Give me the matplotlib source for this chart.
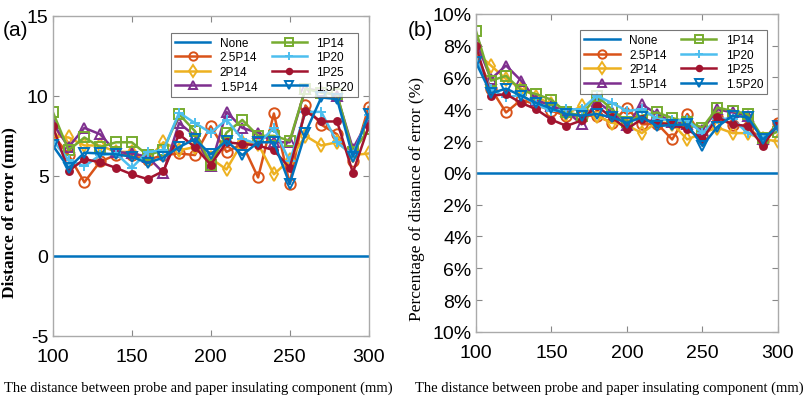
import matplotlib
matplotlib.use("Agg")
import matplotlib.pyplot as plt
import numpy as np

plt.rcParams["axes.unicode_minus"] = False

# distance between probe and component (mm)
distance = list(range(100, 301, 10))

names = ["None", "2.5P14", "2P14", "1.5P14", "1P14", "1P20", "1P25", "1.5P20"]
colors = ["#0072BD", "#D95319", "#EDB120", "#7E2F8E", "#77AC30", "#4DBEEE", "#A2142F", "#0072BD"]
markers = [None, "o", "d", "^", "s", "+", "o", "v"]

# (a) distance of error in mm
err_none = [0.0] * 21
err_25p14 = [7.6, 6.3, 4.6, 5.9, 6.3, 6.3, 6.0, 6.3, 6.4, 6.3, 8.1, 6.5, 7.0, 4.9, 8.9, 4.5, 9.4, 8.2, 7.6, 5.9, 9.3]
err_2p14 = [7.5, 7.4, 6.9, 6.9, 6.5, 6.5, 6.0, 7.1, 6.6, 6.8, 6.1, 5.4, 7.1, 7.0, 5.1, 6.0, 7.5, 6.9, 7.1, 6.3, 6.4]
err_15p14 = [8.3, 6.8, 8.0, 7.6, 6.5, 6.4, 6.2, 5.2, 8.3, 7.5, 5.6, 9.0, 8.0, 7.7, 7.1, 7.1, 10.45, 10.3, 10.0, 6.7, 8.5]
err_1p14 = [9.0, 6.6, 7.4, 6.8, 7.1, 7.1, 6.3, 6.6, 8.85, 7.8, 5.7, 7.7, 8.5, 7.5, 7.5, 7.2, 10.45, 10.2, 10.1, 6.5, 7.9]
err_1p20 = [7.2, 6.0, 5.6, 6.3, 6.4, 5.5, 6.5, 6.6, 8.95, 8.3, 7.7, 8.5, 7.3, 7.0, 8.0, 5.9, 9.0, 9.0, 7.1, 6.3, 8.8]
err_1p25 = [8.1, 5.3, 6.05, 5.85, 5.5, 5.1, 4.8, 5.3, 7.6, 6.8, 5.7, 7.1, 7.0, 6.9, 6.6, 5.5, 9.05, 8.4, 8.4, 5.2, 8.1]
err_15p20 = [6.9, 5.5, 6.45, 6.4, 6.35, 6.2, 5.8, 6.15, 6.8, 7.3, 6.35, 7.2, 6.3, 7.1, 7.1, 4.5, 7.7, 9.9, 9.8, 6.2, 8.85]

# (b) percentage of distance of error (%)
pct_none = [0.0] * 21
pct_25p14 = [7.6, 5.3, 3.8, 4.6, 4.3, 3.9, 3.6, 3.6, 3.6, 3.15, 4.1, 3.05, 3.1, 2.1, 3.7, 2.3, 3.5, 3.0, 2.9, 2.0, 3.15]
pct_2p14 = [7.6, 6.75, 5.9, 5.3, 4.8, 4.3, 3.7, 4.2, 3.6, 3.15, 3.0, 2.5, 3.2, 3.1, 2.1, 2.5, 2.85, 2.5, 2.5, 2.1, 2.0]
pct_15p14 = [8.3, 5.9, 6.75, 5.8, 4.6, 4.2, 3.9, 3.05, 4.5, 3.8, 3.0, 4.3, 3.7, 3.2, 3.1, 2.7, 4.0, 3.8, 3.6, 2.1, 2.9]
pct_1p14 = [8.95, 5.8, 6.1, 5.2, 4.95, 4.6, 3.8, 3.6, 4.85, 4.0, 3.2, 3.6, 3.8, 3.45, 3.2, 2.85, 4.1, 3.9, 3.7, 2.2, 2.6]
pct_1p20 = [7.2, 5.25, 4.75, 4.9, 4.3, 3.9, 4.0, 4.0, 4.85, 4.4, 3.9, 4.0, 3.4, 3.3, 3.3, 2.5, 3.4, 3.4, 2.5, 2.2, 2.8]
pct_1p25 = [8.0, 4.85, 4.95, 4.4, 4.0, 3.35, 2.95, 3.3, 4.2, 3.5, 2.75, 3.4, 3.15, 3.05, 2.75, 2.1, 3.5, 3.05, 2.95, 1.7, 3.05]
pct_15p20 = [6.95, 5.0, 5.3, 4.85, 4.4, 4.05, 3.7, 3.6, 3.7, 3.5, 3.15, 3.5, 2.95, 3.0, 3.05, 1.7, 2.9, 3.6, 3.5, 2.1, 2.95]

err_series = [err_none, err_25p14, err_2p14, err_15p14, err_1p14, err_1p20, err_1p25, err_15p20]
pct_series = [pct_none, pct_25p14, pct_2p14, pct_15p14, pct_1p14, pct_1p20, pct_1p25, pct_15p20]

tick_font = ["Liberation Sans", "DejaVu Sans"]
serif_font = ["Liberation Serif", "DejaVu Serif"]
xlabel_text = "The distance between probe and paper insulating component (mm)"


def draw_panel(ax, series, leg_anchor):
    for i in range(len(series)):
        face = "none"
        size = 7.5
        if names[i] == "1P25":
            face = colors[i]
            size = 5
        ax.plot(distance, series[i], color=colors[i], marker=markers[i], markersize=size,
                markerfacecolor=face, markeredgewidth=1.4, linewidth=1.8, label=names[i])
    ax.set_xlim(100, 300)
    ax.set_xticks([100, 150, 200, 250, 300])
    ax.tick_params(direction="in", top=True, right=True, length=4, color="#888888",
                   labelsize=14)
    ax.tick_params(axis="x", pad=9)
    ax.tick_params(axis="y", pad=3)
    for s in ax.spines.values():
        s.set_color("#aaaaaa")
        s.set_linewidth(1.0)
    leg = ax.legend(ncol=2, loc="upper right", bbox_to_anchor=leg_anchor,
                    prop={"family": tick_font, "size": 8.5}, frameon=True, fancybox=False,
                    edgecolor="#555555", handlelength=3.0, labelspacing=0.22,
                    columnspacing=1.2, borderpad=0.35, handletextpad=0.8,
                    markerscale=0.8)
    leg.get_frame().set_linewidth(0.8)


fig = plt.figure(figsize=(8.12, 4.02), dpi=100)

ax1 = fig.add_axes([0.065, 0.162, 0.389, 0.796])
draw_panel(ax1, err_series, (0.985, 0.966))
ax1.set_ylim(-5, 15)
ax1.set_yticks([-5, 0, 5, 10, 15])
for lab in ax1.get_xticklabels() + ax1.get_yticklabels():
    lab.set_family(tick_font)
ax1.set_ylabel("Distance of error (mm)", family=serif_font, fontsize=12.5,
               fontweight="bold")
ax1.yaxis.set_label_coords(-0.112, 0.39)
fig.text(0.244, 0.035, xlabel_text, family=serif_font, fontsize=10.5, ha="center", va="center")

ax2 = fig.add_axes([0.586, 0.172, 0.372, 0.791])
draw_panel(ax2, pct_series, (0.985, 0.968))
ax2.set_ylim(-10, 10)
yt = list(range(-10, 11, 2))
ax2.set_yticks(yt)
ax2.set_yticklabels([str(abs(v)) + "%" for v in yt])
for lab in ax2.get_xticklabels() + ax2.get_yticklabels():
    lab.set_family(tick_font)
ax2.set_ylabel("Percentage of distance of error (%)", family=serif_font, fontsize=12.5)
ax2.yaxis.set_label_coords(-0.168, 0.42)
fig.text(0.751, 0.035, xlabel_text, family=serif_font, fontsize=10.5, ha="center", va="center")

fig.text(0.003, 0.91, "(a)", family=tick_font, fontsize=15)
fig.text(0.502, 0.91, "(b)", family=tick_font, fontsize=15)

fig.savefig("out.png", dpi=100)
